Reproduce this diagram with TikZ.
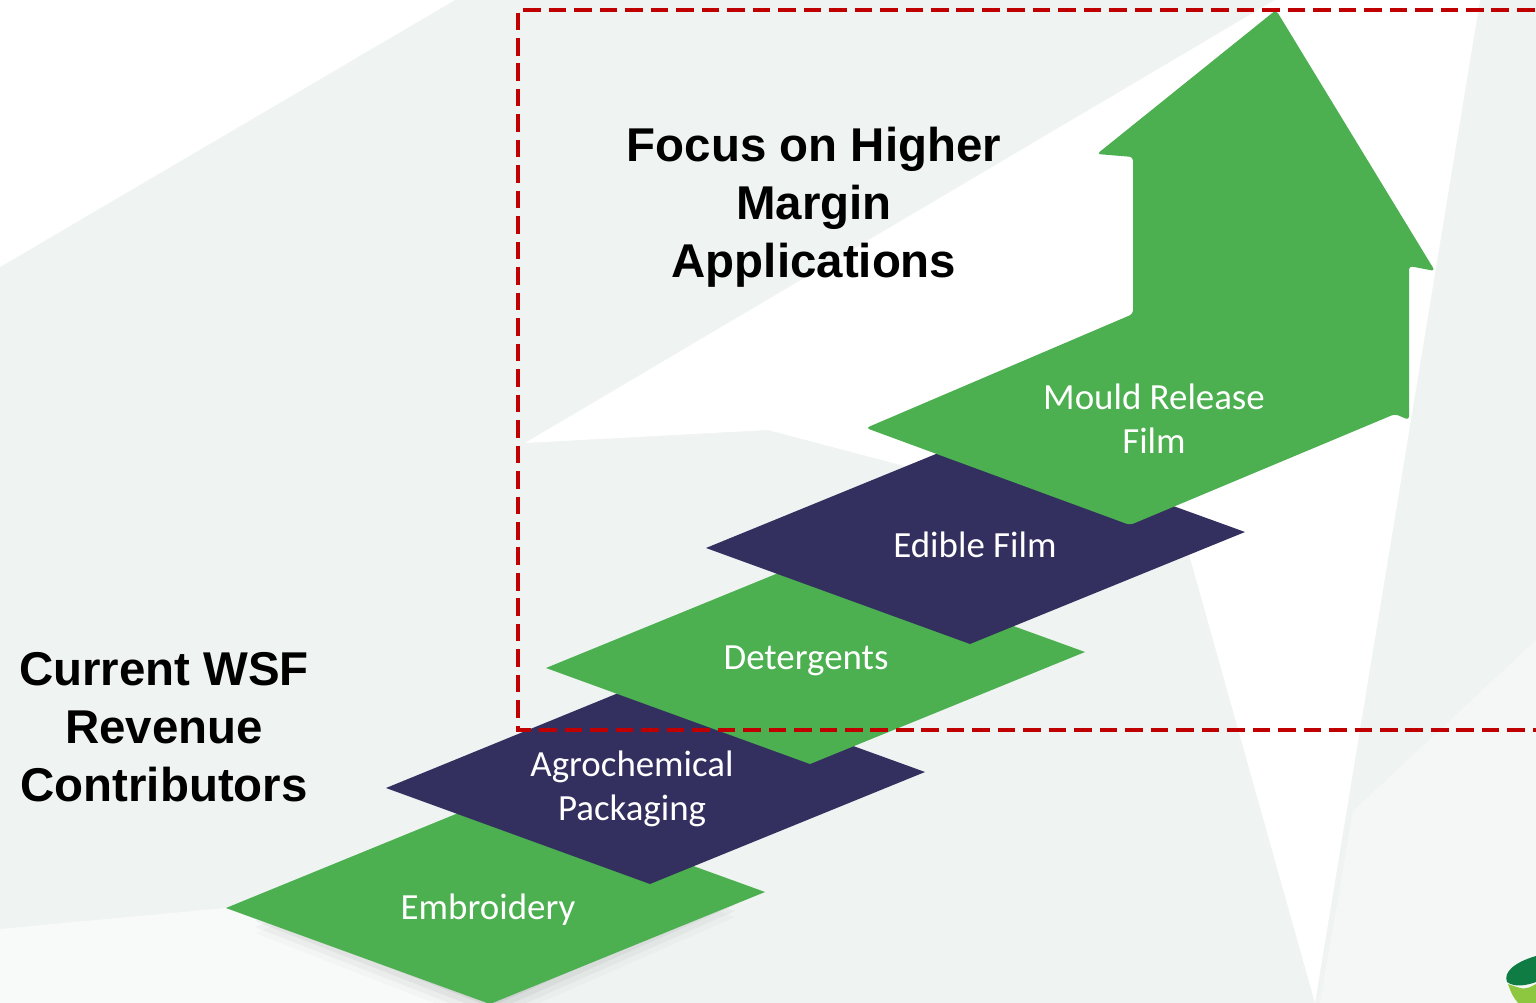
\documentclass[tikz,border=0pt]{standalone}
\usepackage{fontspec}
\setmainfont{Carlito}
\newfontfamily\headfont{Liberation Sans}
\usepackage{tikz}

\definecolor{wsfgreen}{RGB}{76,175,80}
\definecolor{wsfnavy}{RGB}{51,48,96}
\definecolor{wsfred}{RGB}{192,0,0}
\definecolor{bggrey}{RGB}{239,243,242}
\definecolor{leafdark}{RGB}{14,124,67}
\definecolor{leaflight}{RGB}{141,198,63}

% one tile of the staircase: #1 centre, #2 colour
\newcommand{\tile}[2]{%
  \fill[#2,shift={(#1)}] (-269,8) -- (5,-104) -- (270,-8) -- (-5,104) -- cycle;}

\begin{document}
\begin{tikzpicture}[x=0.02cm,y=-0.02cm,
    tiletext/.style={text=white,font=\fontsize{21}{25}\selectfont,align=center},
    headtext/.style={font=\headfont\bfseries\fontsize{27}{33}\selectfont,align=center}]
        \useasboundingbox (0,0) rectangle (1536,1003);
        % background
        \fill[bggrey] (0,0) rectangle (1536,1003);
        \fill[white] (0,0) -- (455,0) -- (0,267) -- cycle;
        \fill[white] (525,443) -- (1275,0) -- (1480,0) -- (1315,1003) -- (1185,540) -- (768,430) -- cycle;
        \fill[white!55!bggrey] (0,929) -- (225,908) -- (490,1003) -- (0,1003) -- cycle;
        \fill[white!35!bggrey] (1353,811) -- (1536,640) -- (1536,1003) -- (1320,1003) -- cycle;
        % shadow under the first tile
        \foreach \d/\o in {6/0.05,12/0.05,18/0.04,24/0.03,30/0.02}
            \fill[black,opacity=\o,shift={(495,{895+\d})}] (-240,8) -- (5,-90) -- (240,-8) -- (-5,100) -- cycle;
        % tiles
        \tile{495,900}{wsfgreen}
        \tile{655,780}{wsfnavy}
        \tile{815,660}{wsfgreen}
        \tile{975,540}{wsfnavy}
        \fill[wsfgreen,rounded corners=2pt] (866,428) -- (1133,314) -- (1133,157) -- (1097,154) -- (1276,10)
            -- (1435,271) -- (1409,266) -- (1409,420) -- (1395,414) -- (1130,525) -- cycle;
        \node[tiletext] (emb) at (488,910) {Embroidery};
        \node[tiletext] (agro) at (632,789) {Agrochemical\\Packaging};
        \node[tiletext] (det) at (806,661) {Detergents};
        \node[tiletext] (edible) at (975,545) {Edible Film};
        \node[tiletext] (mould) at (1154,419) {Mould Release\\Film};
        % dashed frame
        \draw[wsfred,line width=2.4pt,dash pattern=on 10pt off 4.5pt] (1560,10) -- (518,10) -- (518,730) -- (1560,730);
        \node[headtext] (focus) at (814,207) {Focus on Higher\\Margin\\Applications};
        \node[headtext] (current) at (164,727) {Current WSF\\Revenue\\Contributors};
        % corner leaf
        \fill[leafdark] (1536,956) .. controls (1515,962) and (1503,972) .. (1507,982)
            .. controls (1515,988) and (1528,985) .. (1536,982) -- cycle;
        \fill[leaflight] (1508,984) .. controls (1512,995) .. (1518,1003) -- (1536,1003) -- (1536,984)
            .. controls (1525,990) .. (1508,984);
        \end{tikzpicture}
\end{document}
